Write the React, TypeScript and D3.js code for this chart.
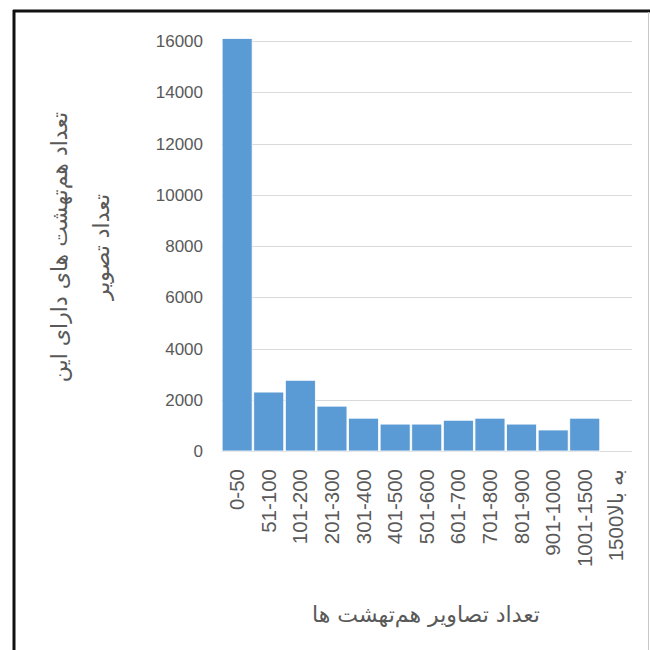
import React from "react";
import * as d3 from "d3";

const categories = ["0-50", "51-100", "101-200", "201-300", "301-400", "401-500", "501-600", "601-700", "701-800", "801-900", "901-1000", "1001-1500", "1500به بالا"];
const counts = [16100, 2300, 2760, 1750, 1280, 1050, 1050, 1200, 1280, 1050, 820, 1280, 0];
const yTicks = [0, 2000, 4000, 6000, 8000, 10000, 12000, 14000, 16000];
const yTitleLines = ["تعداد هم‌تهشت های دارای این", "تعداد تصویر"];
const xTitle = "تعداد تصاویر هم‌تهشت ها";

export default function App() {
  const W = 650, H = 650;
  const left = 221.5, right = 632, top = 41, bottom = 451;
  const x = d3.scaleBand<string>().domain(categories).range([left, right]).paddingInner(0.05).paddingOuter(0.02);
  const y = d3.scaleLinear().domain([0, 16000]).range([bottom, top]);
  const textColor = "#595959";
  const numFont = "'Liberation Sans', Arial, sans-serif";
  const faFont = "'DejaVu Sans', sans-serif";
  return (
    <svg width={W} height={H} style={{ position: "absolute", left: 0, top: 0, background: "#fff" }}>
      <rect x={0} y={0} width={W} height={H} fill="#fff" />
      {/* frame */}
      <line x1={13} y1={11} x2={W} y2={11} stroke="#111" strokeWidth={3} />
      <line x1={14} y1={10} x2={14} y2={H} stroke="#111" strokeWidth={3} />
      <line x1={648.5} y1={12} x2={648.5} y2={H} stroke="#c8c8c8" strokeWidth={1} />
      {/* gridlines */}
      {yTicks.map((t) => (
        <line key={"g" + t} x1={left} x2={right} y1={Math.round(y(t)) + 0.5} y2={Math.round(y(t)) + 0.5} stroke="#d9d9d9" strokeWidth={1} />
      ))}
      {/* y tick labels */}
      {yTicks.map((t) => (
        <text key={"t" + t} x={203} y={y(t)} dy="0.36em" textAnchor="end" fontFamily={numFont} fontSize={17} fill={textColor}>
          {t}
        </text>
      ))}
      {/* bars */}
      {categories.map((c, i) =>
        counts[i] > 0 ? (
          <rect key={c} x={x(c)} y={y(counts[i])} width={x.bandwidth()} height={y(0) - y(counts[i])} fill="#5b9bd5" stroke="#fff" strokeWidth={0.8} />
        ) : null
      )}
      {/* x labels */}
      {categories.map((c) => {
        const cx = (x(c) as number) + x.bandwidth() / 2;
        return (
          <text key={"x" + c} transform={`translate(${cx + 7},469) rotate(-90)`} textAnchor="end" direction="ltr" fontFamily={numFont} fontSize={20.5} fill={textColor}>
            {c}
          </text>
        );
      })}
      {/* y title */}
      {yTitleLines.map((l, i) => (
        <text key={"yt" + i} transform={`translate(${67 + i * 42},247) rotate(-90)`} textAnchor="middle" fontFamily={faFont} fontSize={22} fill={textColor}>
          {l}
        </text>
      ))}
      {/* x title */}
      <text x={426} y={622} textAnchor="middle" fontFamily={faFont} fontSize={22} fill={textColor}>
        {xTitle}
      </text>
    </svg>
  );
}
